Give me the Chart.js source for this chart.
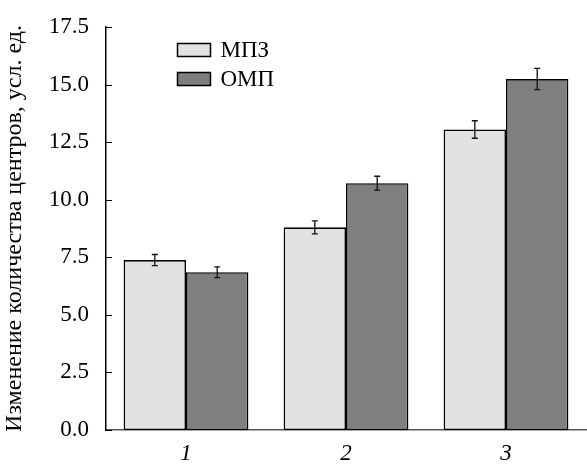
<!DOCTYPE html>
<html>
<head>
<meta charset="utf-8">
<script src="https://cdn.jsdelivr.net/npm/chart.js@4"></script>
<style>
  html, body { margin: 0; padding: 0; background: #fff; }
  #wrap { width: 587px; height: 464px; }
</style>
</head>
<body>
<div id="wrap"><canvas id="chart" width="587" height="464"></canvas></div>
<script>
const categories = ["1", "2", "3"];
const seriesNames = ["МПЗ", "ОМП"];
const mpzValues = [7.38, 8.8, 13.05];
const mpzErrors = [0.24, 0.28, 0.38];
const ompValues = [6.85, 10.72, 15.24];
const ompErrors = [0.23, 0.3, 0.46];
const yTicks = [0, 2.5, 5, 7.5, 10, 12.5, 15, 17.5];

const serif = "'Liberation Serif', 'Times New Roman', serif";

// error bars + inward y ticks + legend box
const extras = {
    id: "extras",
    afterDatasetsDraw(chart) {
        const ctx = chart.ctx;
        const y = chart.scales.y;
        const errs = [mpzErrors, ompErrors];
        ctx.save();
        ctx.strokeStyle = "#111";
        ctx.lineWidth = 1.3;
        chart.data.datasets.forEach((ds, di) => {
            const meta = chart.getDatasetMeta(di);
            meta.data.forEach((bar, i) => {
                const v = ds.data[i];
                const top = y.getPixelForValue(v + errs[di][i]);
                const bot = y.getPixelForValue(v - errs[di][i]);
                const x = bar.x;
                ctx.beginPath();
                ctx.moveTo(x, top); ctx.lineTo(x, bot);
                ctx.moveTo(x - 3, top); ctx.lineTo(x + 3, top);
                ctx.moveTo(x - 3, bot); ctx.lineTo(x + 3, bot);
                ctx.stroke();
            });
        });
        // inward ticks
        ctx.strokeStyle = "#000";
        ctx.lineWidth = 1;
        yTicks.forEach(t => {
            const py = Math.round(y.getPixelForValue(t)) + 0.5;
            ctx.beginPath();
            ctx.moveTo(chart.chartArea.left, py);
            ctx.lineTo(chart.chartArea.left + 6, py);
            ctx.stroke();
        });
        // legend
        ctx.font = "23px " + serif;
        ctx.textBaseline = "middle";
        chart.data.datasets.forEach((ds, di) => {
            const bx = 177.5, by = 43.5 + di * 29;
            ctx.fillStyle = ds.backgroundColor;
            ctx.fillRect(bx, by, 33, 13);
            ctx.strokeStyle = "#000";
            ctx.lineWidth = 1.5;
            ctx.strokeRect(bx, by, 33, 13);
            ctx.fillStyle = "#000";
            ctx.fillText(ds.label, bx + 43, by + 7);
        });
        ctx.restore();
    }
};

new Chart(document.getElementById("chart"), {
    type: "bar",
    data: {
        labels: categories,
        datasets: [
            {
                label: seriesNames[0],
                data: mpzValues,
                backgroundColor: "#e2e2e2",
                borderColor: "#000",
                borderWidth: 1.6,
                borderSkipped: false
            },
            {
                label: seriesNames[1],
                data: ompValues,
                backgroundColor: "#7f7f7f",
                borderColor: "#000",
                borderWidth: 1.6,
                borderSkipped: false
            }
        ]
    },
    options: {
        responsive: false,
        animation: false,
        layout: { padding: { top: 27, right: 1, left: 0, bottom: 0 } },
        categoryPercentage: 0.78,
        barPercentage: 1,
        plugins: {
            legend: { display: false },
            tooltip: { enabled: false }
        },
        scales: {
            x: {
                afterFit(scale) { scale.height = 34; },
                grid: { display: false },
                border: { display: true, color: "#555", width: 1.5 },
                ticks: {
                    color: "#000",
                    padding: 2,
                    font: { family: serif, size: 23, style: "italic" }
                }
            },
            y: {
                min: 0,
                max: 17.5,
                afterBuildTicks(scale) {
                    scale.ticks = yTicks.map(v => ({ value: v }));
                },
                afterFit(scale) { scale.width = 106; },
                grid: { display: false },
                border: { display: true, color: "#000", width: 1.5 },
                ticks: {
                    color: "#000",
                    padding: 9,
                    font: { family: serif, size: 23 },
                    callback: v => v.toFixed(1)
                },
                title: {
                    display: true,
                    text: "Изменение количества центров, усл. ед.",
                    color: "#000",
                    padding: { top: 0, bottom: 2 },
                    font: { family: serif, size: 24 }
                }
            }
        }
    },
    plugins: [extras]
});
</script>
</body>
</html>
